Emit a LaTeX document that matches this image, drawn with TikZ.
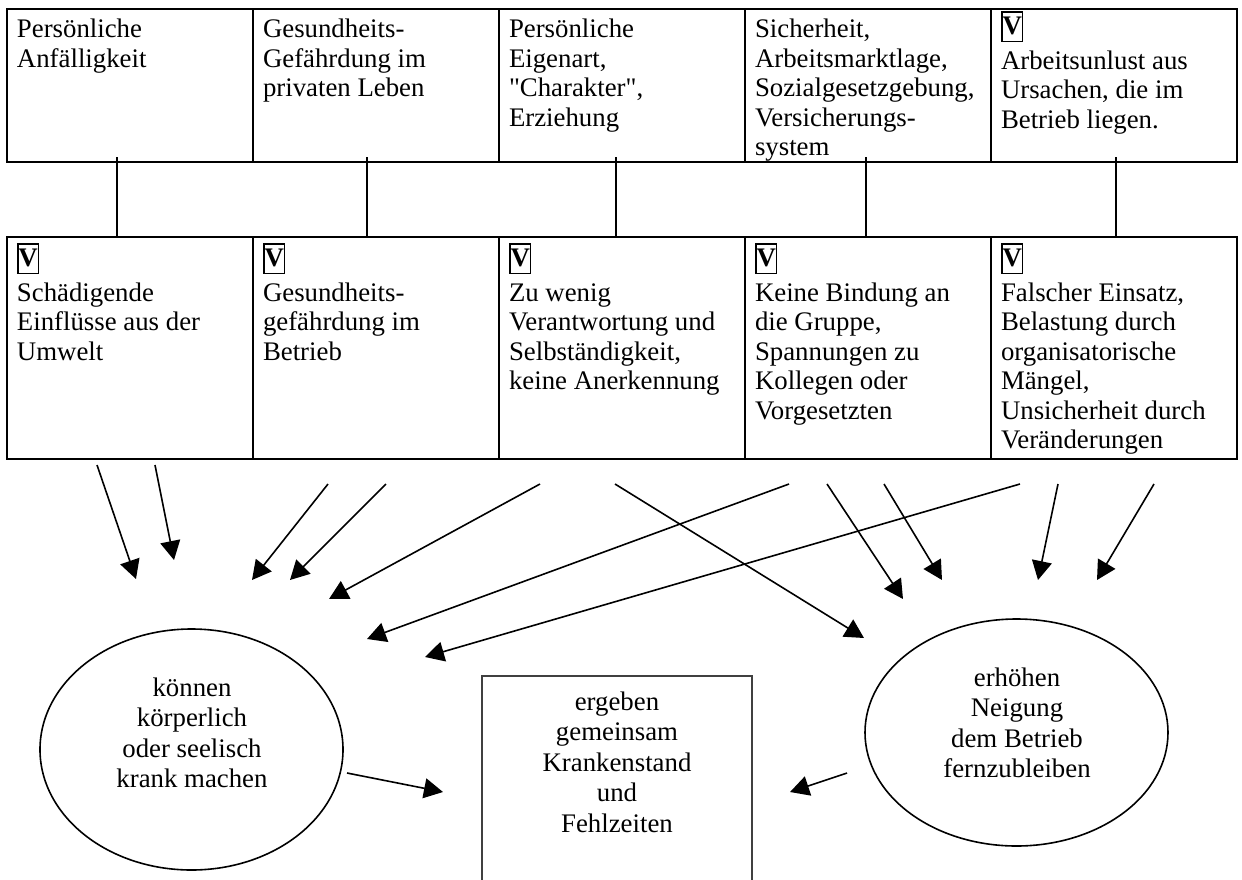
\documentclass[tikz,border=0pt]{standalone}
\usepackage{fontspec}
\setmainfont{Liberation Serif}
\usetikzlibrary{arrows.meta,shapes.geometric}

% framed bold V in front of the cell texts
\newcommand{\vmark}{{\setlength{\fboxsep}{0pt}\setlength{\fboxrule}{0.75pt}%
  \fbox{\rule[-3pt]{0pt}{14pt}\textbf{V}}}}
% straight double quote (no TeX mapping)
\newcommand{\sq}{\XeTeXglyph\XeTeXcharglyph"0022\relax}

\begin{document}
\begin{tikzpicture}[x=0.5pt, y=-0.5pt,
    every node/.style={inner sep=0pt, outer sep=0pt},
    cell/.style={draw, line width=1.2pt, anchor=north west, minimum width=123pt},
    celltext/.style={anchor=north west, align=left, font=\fontsize{13.4}{14.75}\selectfont},
    oval/.style={draw, ellipse, line width=0.8pt, minimum width=151.5pt},
    midtext/.style={align=center, font=\fontsize{13.4}{15.25}\selectfont},
    link/.style={line width=0.7pt},
    arrow/.style={-{Triangle[length=9.5pt,width=10pt]}, line width=0.8pt}]

  \useasboundingbox (0,0) rectangle (1242,879);
  \clip (0,0) rectangle (1242,879);

  %%% upper row: causes outside the firm
  \node[cell, minimum height=76.5pt] (top1) at (7,9) {};
  \node[cell, minimum height=76.5pt] (top2) at (253,9) {};
  \node[cell, minimum height=76.5pt] (top3) at (499,9) {};
  \node[cell, minimum height=76.5pt] (top4) at (745,9) {};
  \node[cell, minimum height=76.5pt] (top5) at (991,9) {};

  \node[celltext] (topText1) at (17,17) {\strut Persönliche\\Anfälligkeit};
  \node[celltext] (topText2) at (263,17) {\strut Gesundheits-\\Gefährdung im\\privaten Leben};
  \node[celltext] (topText3) at (509,17) {\strut Persönliche\\Eigenart,\\\sq Charakter\sq,\\Erziehung};
  \node[celltext] (topText4) at (755,17) {\strut Sicherheit,\\Arbeitsmarktlage,\\Sozialgesetzgebung,\\Versicherungs-\\system};
  \node[celltext] (topText5) at (1001,11) {\vmark\\[2.5pt]Arbeitsunlust aus\\Ursachen, die im\\Betrieb liegen.};

  %%% lower row: causes in the firm
  \node[cell, minimum height=111pt] (bot1) at (7,237) {};
  \node[cell, minimum height=111pt] (bot2) at (253,237) {};
  \node[cell, minimum height=111pt] (bot3) at (499,237) {};
  \node[cell, minimum height=111pt] (bot4) at (745,237) {};
  \node[cell, minimum height=111pt] (bot5) at (991,237) {};

  \node[celltext] (botText1) at (17,243) {\vmark\\[2.5pt]Schädigende\\Einflüsse aus der\\Umwelt};
  \node[celltext] (botText2) at (263,243) {\vmark\\[2.5pt]Gesundheits-\\gefährdung im\\Betrieb};
  \node[celltext] (botText3) at (509,243) {\vmark\\[2.5pt]Zu wenig\\Verantwortung und\\Selbständigkeit,\\keine Anerkennung};
  \node[celltext] (botText4) at (755,243) {\vmark\\[2.5pt]Keine Bindung an\\die Gruppe,\\Spannungen zu\\Kollegen oder\\Vorgesetzten};
  \node[celltext] (botText5) at (1001,243) {\vmark\\[2.5pt]Falscher Einsatz,\\Belastung durch\\organisatorische\\Mängel,\\Unsicherheit durch\\Veränderungen};

  % links between the rows
  \coordinate (link1) at (117,157);
  \coordinate (link2) at (367,157);
  \coordinate (link3) at (616,157);
  \coordinate (link4) at (866,157);
  \coordinate (link5) at (1116,157);
  \draw[link] (link1) -- (link1 |- bot1.north);
  \draw[link] (link2) -- (link2 |- bot2.north);
  \draw[link] (link3) -- (link3 |- bot3.north);
  \draw[link] (link4) -- (link4 |- bot4.north);
  \draw[link] (link5) -- (link5 |- bot5.north);

  %%% effects
  \node[oval, minimum height=120.5pt] (sick) at (191.5,749.5) {};
  \node[midtext] (sickText) at (192,736) {\strut können\\körperlich\\oder seelisch\\krank machen\strut};

  \node[draw=black!75, line width=1pt, anchor=north west, minimum width=135pt, minimum height=115pt] (result) at (482,676) {};
  \node[midtext] (resultText) at (617,765) {\strut ergeben\\gemeinsam\\Krankenstand\\und\\Fehlzeiten\strut};

  \node[oval, minimum height=113.5pt] (absent) at (1016.5,732.5) {};
  \node[midtext] (absentText) at (1017,726) {\strut erhöhen\\Neigung\\dem Betrieb\\fernzubleiben\strut};

  % arrow ends below the lower row
  \coordinate (from1) at (97,465);    \coordinate (to1) at (136,579);
  \coordinate (from2) at (155,465);   \coordinate (to2) at (174,560);
  \coordinate (from3) at (328,484);   \coordinate (to3) at (252,580);
  \coordinate (from4) at (386,484);   \coordinate (to4) at (290,580);
  \coordinate (from5) at (540,484);   \coordinate (to5) at (329,599);
  \coordinate (from6) at (615,484);   \coordinate (to6) at (864,638);
  \coordinate (from7) at (789,484);   \coordinate (to7) at (367,639);
  \coordinate (from8) at (827,484);   \coordinate (to8) at (903,599);
  \coordinate (from9) at (884,484);   \coordinate (to9) at (942,580);
  \coordinate (from10) at (1020,484); \coordinate (to10) at (425,657);
  \coordinate (from11) at (1058,484); \coordinate (to11) at (1038,580);
  \coordinate (from12) at (1154,484); \coordinate (to12) at (1097,580);

  \draw[arrow] (from1) -- (to1);
  \draw[arrow] (from2) -- (to2);
  \draw[arrow] (from3) -- (to3);
  \draw[arrow] (from4) -- (to4);
  \draw[arrow] (from5) -- (to5);
  \draw[arrow] (from6) -- (to6);
  \draw[arrow] (from7) -- (to7);
  \draw[arrow] (from8) -- (to8);
  \draw[arrow] (from9) -- (to9);
  \draw[arrow] (from10) -- (to10);
  \draw[arrow] (from11) -- (to11);
  \draw[arrow] (from12) -- (to12);

  % both effects lead to the result
  \coordinate (sickOut) at (347,773);   \coordinate (sickIn) at (443,792);
  \coordinate (absentOut) at (847,773); \coordinate (absentIn) at (790,792);
  \draw[arrow] (sickOut) -- (sickIn);
  \draw[arrow] (absentOut) -- (absentIn);
\end{tikzpicture}
\end{document}
